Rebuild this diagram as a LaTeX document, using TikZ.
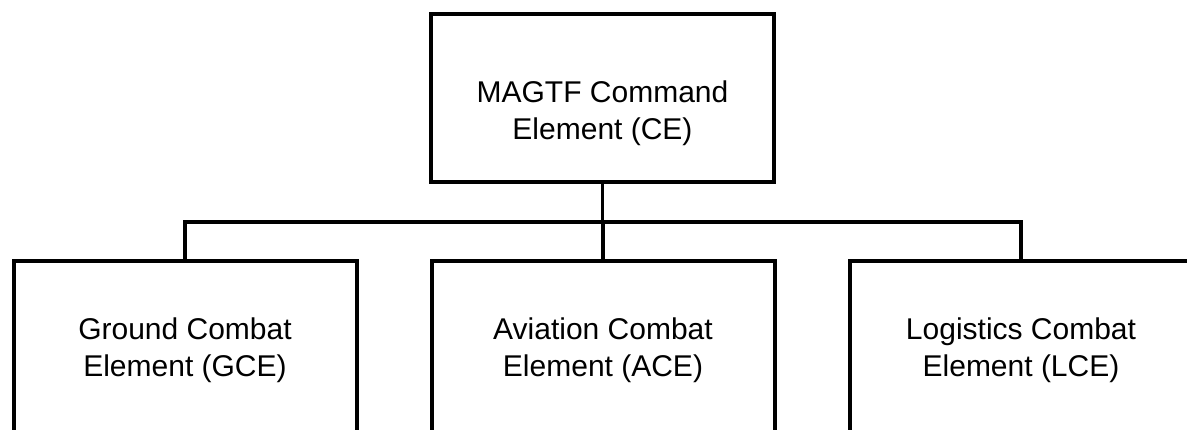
\documentclass[tikz,border=0pt]{standalone}
\usepackage{fontspec}
\setmainfont{Liberation Sans}
\usetikzlibrary{positioning}
\tikzset{
    unit/.style={rectangle, draw, line width=2pt, outer sep=0pt, minimum width=171.5pt, align=center, font=\fontsize{15pt}{18.5pt}\selectfont},
    hq/.style={unit, minimum height=84pt},
    element/.style={unit, minimum height=89pt},
    link/.style={line width=1.7pt},
}
\begin{document}
\begin{tikzpicture}
    \useasboundingbox[fill=white] (0,0) rectangle (593.5pt,-214.5pt);
    \clip (0,0) rectangle (593.5pt,-214.5pt);

    % Command element on top
    \node[hq] (ce) at (301.25pt,-49pt) {\rule{0pt}{26pt}MAGTF Command\\Element (CE)};

    % Three subordinate elements
    \node[element, below=39.5pt of ce, xshift=0.25pt] (ace) {Aviation Combat\\Element (ACE)};
    \node[element, left=37.5pt of ace] (gce) {Ground Combat\\Element (GCE)};
    \node[element, right=37.5pt of ace] (lce) {Logistics Combat\\Element (LCE)};

    % Tree connectors
    \draw[link] (ce.south) -- ++(0,-20pt) -| (gce.north);
    \draw[link] (ce.south) -- ++(0,-20pt) -| (ace.north);
    \draw[link] (ce.south) -- ++(0,-20pt) -| (lce.north);
\end{tikzpicture}
\end{document}
